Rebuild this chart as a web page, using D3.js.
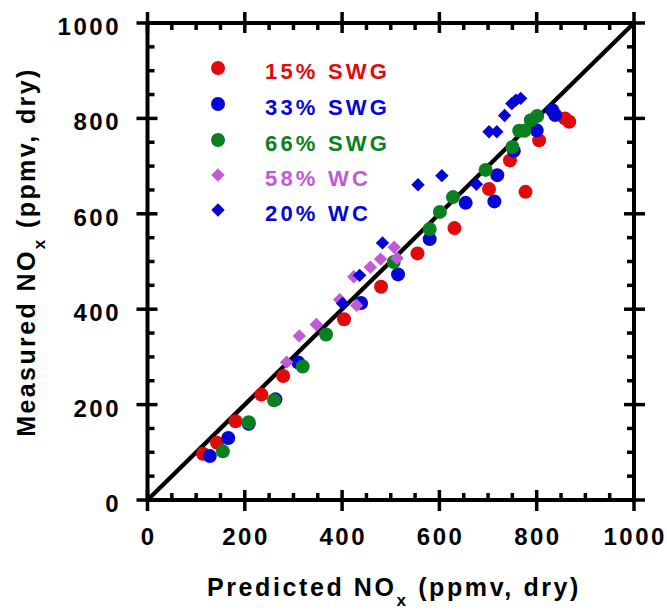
<!DOCTYPE html>
<html>
<head>
<meta charset="utf-8">
<script src="https://cdn.jsdelivr.net/npm/d3@7/dist/d3.min.js"></script>
<style>
  html, body { margin: 0; padding: 0; background: #fff; }
  svg { display: block; font-family: "Liberation Sans", Arial, sans-serif; font-weight: bold; }
</style>
</head>
<body>
<svg id="chart" width="667" height="610"></svg>
<script>
// Predicted vs measured NOx (ppmv, dry) for each fuel blend: [predicted, measured]
const swg15 = [[114, 97], [143, 120], [181, 165], [234, 221], [279, 260], [404, 379], [480, 447],
  [555, 517], [631, 570], [702, 652], [745, 712], [777, 646], [805, 754], [858, 800], [867, 793]];
const swg33 = [[128, 92], [166, 130], [208, 160], [263, 211], [310, 288], [439, 413], [515, 473],
  [580, 547], [654, 623], [719, 681], [713, 626], [753, 732], [800, 775], [832, 817], [838, 807]];
const swg66 = [[155, 102], [208, 163], [260, 209], [319, 280], [367, 347], [506, 499], [580, 568],
  [601, 604], [628, 635], [695, 692], [750, 740], [764, 774], [775, 774], [788, 796], [801, 805]];
const wc58 = [[286, 289], [312, 344], [347, 368], [395, 420], [430, 408], [424, 468], [458, 488],
  [479, 505], [507, 530], [513, 507]];
const wc20 = [[401, 412], [436, 471], [483, 539], [556, 661], [605, 680], [676, 662], [702, 772],
  [718, 772], [734, 806], [749, 831], [757, 838], [767, 842]];

const seriesNames = ["15% SWG", "33% SWG", "66% SWG", "58% WC", "20% WC"];
const seriesData = [swg15, swg33, swg66, wc58, wc20];
const seriesColors = ["#e10a0a", "#0505d6", "#0a8020", "#c05ad8", "#0505d6"];
const seriesShapes = ["circle", "circle", "circle", "diamond", "diamond"];

const axisTicks = [0, 200, 400, 600, 800, 1000];
const minorTicks = d3.range(0, 1001, 50).filter(v => v % 200 !== 0);

const svg = d3.select("#chart");
const x = d3.scaleLinear().domain([0, 1000]).range([147.5, 634]);
const y = d3.scaleLinear().domain([0, 1000]).range([500, 23]);

// 1:1 reference line
svg.append("line")
  .attr("x1", x(0)).attr("y1", y(0)).attr("x2", x(1000)).attr("y2", y(1000))
  .attr("stroke", "#000").attr("stroke-width", 4.3);

// markers
const circleR = 7;
const diamond = d3.symbol().type(d3.symbolSquare).size(90);
function drawMarker(g, shape, color, cx, cy) {
  if (shape === "circle") {
    g.append("circle").attr("cx", cx).attr("cy", cy).attr("r", circleR).attr("fill", color);
  } else {
    g.append("path").attr("d", diamond())
      .attr("transform", `translate(${cx},${cy}) rotate(45)`).attr("fill", color);
  }
}
const pts = svg.append("g");
seriesData.forEach((data, i) => {
  data.forEach(d => drawMarker(pts, seriesShapes[i], seriesColors[i], x(d[0]), y(d[1])));
});

// frame with ticks on all four sides
const frame = svg.append("g").attr("stroke", "#000").attr("stroke-width", 4).attr("fill", "none");
frame.append("rect").attr("x", x(0)).attr("y", y(1000))
  .attr("width", x(1000) - x(0)).attr("height", y(0) - y(1000));
const tk = svg.append("g").attr("stroke", "#000").attr("stroke-width", 3.5);
axisTicks.forEach(v => {
  tk.append("line").attr("x1", x(v)).attr("x2", x(v)).attr("y1", y(0) - 10).attr("y2", y(0) + 11);
  tk.append("line").attr("x1", x(v)).attr("x2", x(v)).attr("y1", y(1000) - 11).attr("y2", y(1000) + 10);
  tk.append("line").attr("y1", y(v)).attr("y2", y(v)).attr("x1", x(0) - 11).attr("x2", x(0) + 10);
  tk.append("line").attr("y1", y(v)).attr("y2", y(v)).attr("x1", x(1000) - 10).attr("x2", x(1000) + 11);
});
minorTicks.forEach(v => {
  tk.append("line").attr("x1", x(v)).attr("x2", x(v)).attr("y1", y(0) - 7).attr("y2", y(0));
  tk.append("line").attr("x1", x(v)).attr("x2", x(v)).attr("y1", y(1000)).attr("y2", y(1000) + 7);
  tk.append("line").attr("y1", y(v)).attr("y2", y(v)).attr("x1", x(0)).attr("x2", x(0) + 7);
  tk.append("line").attr("y1", y(v)).attr("y2", y(v)).attr("x1", x(1000) - 7).attr("x2", x(1000));
});

// tick labels
const labels = svg.append("g").attr("fill", "#000").attr("font-size", 24).attr("letter-spacing", 2.5);
axisTicks.forEach(v => {
  labels.append("text").attr("x", x(v) + 1.2).attr("y", 545)
    .attr("text-anchor", "middle").text(v);
  labels.append("text").attr("x", 121).attr("y", y(v) + 12)
    .attr("text-anchor", "end").text(v);
});

// axis titles with subscript x
function title(g) {
  g.append("tspan").text("NO");
  g.append("tspan").attr("font-size", 17).attr("dy", 10).text("x");
  g.append("tspan").attr("dy", -10).text(" (ppmv, dry)");
}
const xt = svg.append("text").attr("x", 394).attr("y", 596).attr("text-anchor", "middle")
  .attr("font-size", 25).attr("letter-spacing", 2.6);
xt.append("tspan").text("Predicted ");
title(xt);
const yt = svg.append("text").attr("transform", "translate(35,252) rotate(-90)")
  .attr("text-anchor", "middle").attr("font-size", 25).attr("letter-spacing", 2.4);
yt.append("tspan").text("Measured ");
title(yt);

// legend
const legend = svg.append("g");
const legendY = [68, 104, 140, 175, 210];
seriesNames.forEach((name, i) => {
  drawMarker(legend, seriesShapes[i], seriesColors[i], 218, legendY[i]);
  legend.append("text").attr("x", 265).attr("y", legendY[i] + 10.5)
    .attr("font-size", 22).attr("letter-spacing", 3.2)
    .attr("fill", seriesColors[i]).text(name);
});
</script>
</body>
</html>
